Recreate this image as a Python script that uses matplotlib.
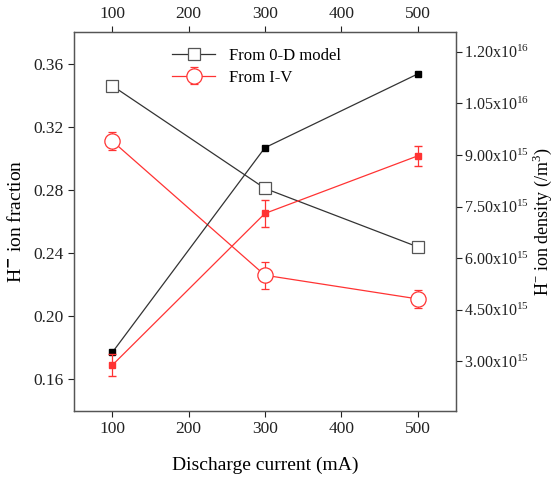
import matplotlib
matplotlib.use("Agg")
from matplotlib import pyplot as plt
from matplotlib.ticker import FuncFormatter

plt.rcParams['font.family'] = ['Liberation Serif', 'DejaVu Serif']
plt.rcParams['mathtext.fontset'] = 'custom'
plt.rcParams['mathtext.rm'] = 'Liberation Serif'

# discharge current (mA)
current = [100, 300, 500]

# H- ion fraction (left axis, open markers)
frac_model = [0.346, 0.281, 0.244]
frac_iv = [0.311, 0.226, 0.211]
frac_iv_err = [0.0055, 0.0085, 0.0055]

# H- ion density (right axis, filled markers), /m^3
dens_model = [3.26e15, 9.21e15, 11.35e15]
dens_iv = [2.89e15, 7.30e15, 8.97e15]
dens_iv_err = [0.32e15, 0.38e15, 0.30e15]

dens_ticks = [3.0e15, 4.5e15, 6.0e15, 7.5e15, 9.0e15, 1.05e16, 1.2e16]

black = '#333333'
red = '#ff3333'

fig = plt.figure(figsize=(5.53, 4.79), dpi=100)
ax = fig.add_axes([0.134, 0.142, 0.690, 0.791])
ax2 = ax.twinx()

ax.plot(current, frac_model, color=black, lw=0.9, marker='s', ms=8,
        mfc='white', mec='#555555', mew=0.9, label='From 0-D model', zorder=3)
ax.errorbar(current, frac_iv, yerr=frac_iv_err, color=red, lw=0.9, marker='o', ms=11,
            mfc='white', mec=red, mew=0.9, capsize=3, elinewidth=0.9,
            label='From I-V', zorder=3)

ax2.plot(current, dens_model, color=black, lw=0.9, marker='s', ms=5,
         mfc='black', mec='black', zorder=3)
ax2.errorbar(current, dens_iv, yerr=dens_iv_err, color=red, lw=0.9, marker='s', ms=5,
             mfc=red, mec=red, capsize=3, elinewidth=0.9, zorder=3)

ax.set_xlim(50, 550)
ax.set_ylim(0.14, 0.38)
ax.set_xticks([100, 200, 300, 400, 500])
ax.set_yticks([0.16, 0.20, 0.24, 0.28, 0.32, 0.36])
ax.yaxis.set_major_formatter(FuncFormatter(lambda v, p: f"{v:.2f}"))

ax2.set_ylim(1.56e15, 12.57e15)
ax2.set_yticks(dens_ticks)


def sci_fmt(v, p):
    exp = 16 if v >= 1e16 else 15
    return r'$\mathregular{%.2fx10^{%d}}$' % (v / 10**exp, exp)


ax2.yaxis.set_major_formatter(FuncFormatter(sci_fmt))

ax.tick_params(axis='both', direction='out', length=4, width=0.8, labelsize=12.5,
               top=True, labeltop=True, colors='#222222')
ax2.tick_params(axis='y', direction='out', length=4, width=0.8, labelsize=11.5,
                pad=2, colors='#222222')
for a in (ax, ax2):
    for s in a.spines.values():
        s.set_color('#555555')
        s.set_linewidth(0.9)

ax.set_xlabel('Discharge current (mA)', fontsize=14, labelpad=14)
ax.set_ylabel(r'H$^{\mathbf{-}}$ ion fraction', fontsize=14, labelpad=6)
ax2.set_ylabel(r'H$^{-}$ ion density (/m$^{3}$)', fontsize=13)
ax2.yaxis.set_label_coords(1.196, 0.5)

ax.legend(loc='upper left', bbox_to_anchor=(0.23, 0.985), frameon=False,
          fontsize=12, handlelength=2.6, borderaxespad=0.2, labelspacing=0.35)

fig.savefig('out.png', dpi=100)
